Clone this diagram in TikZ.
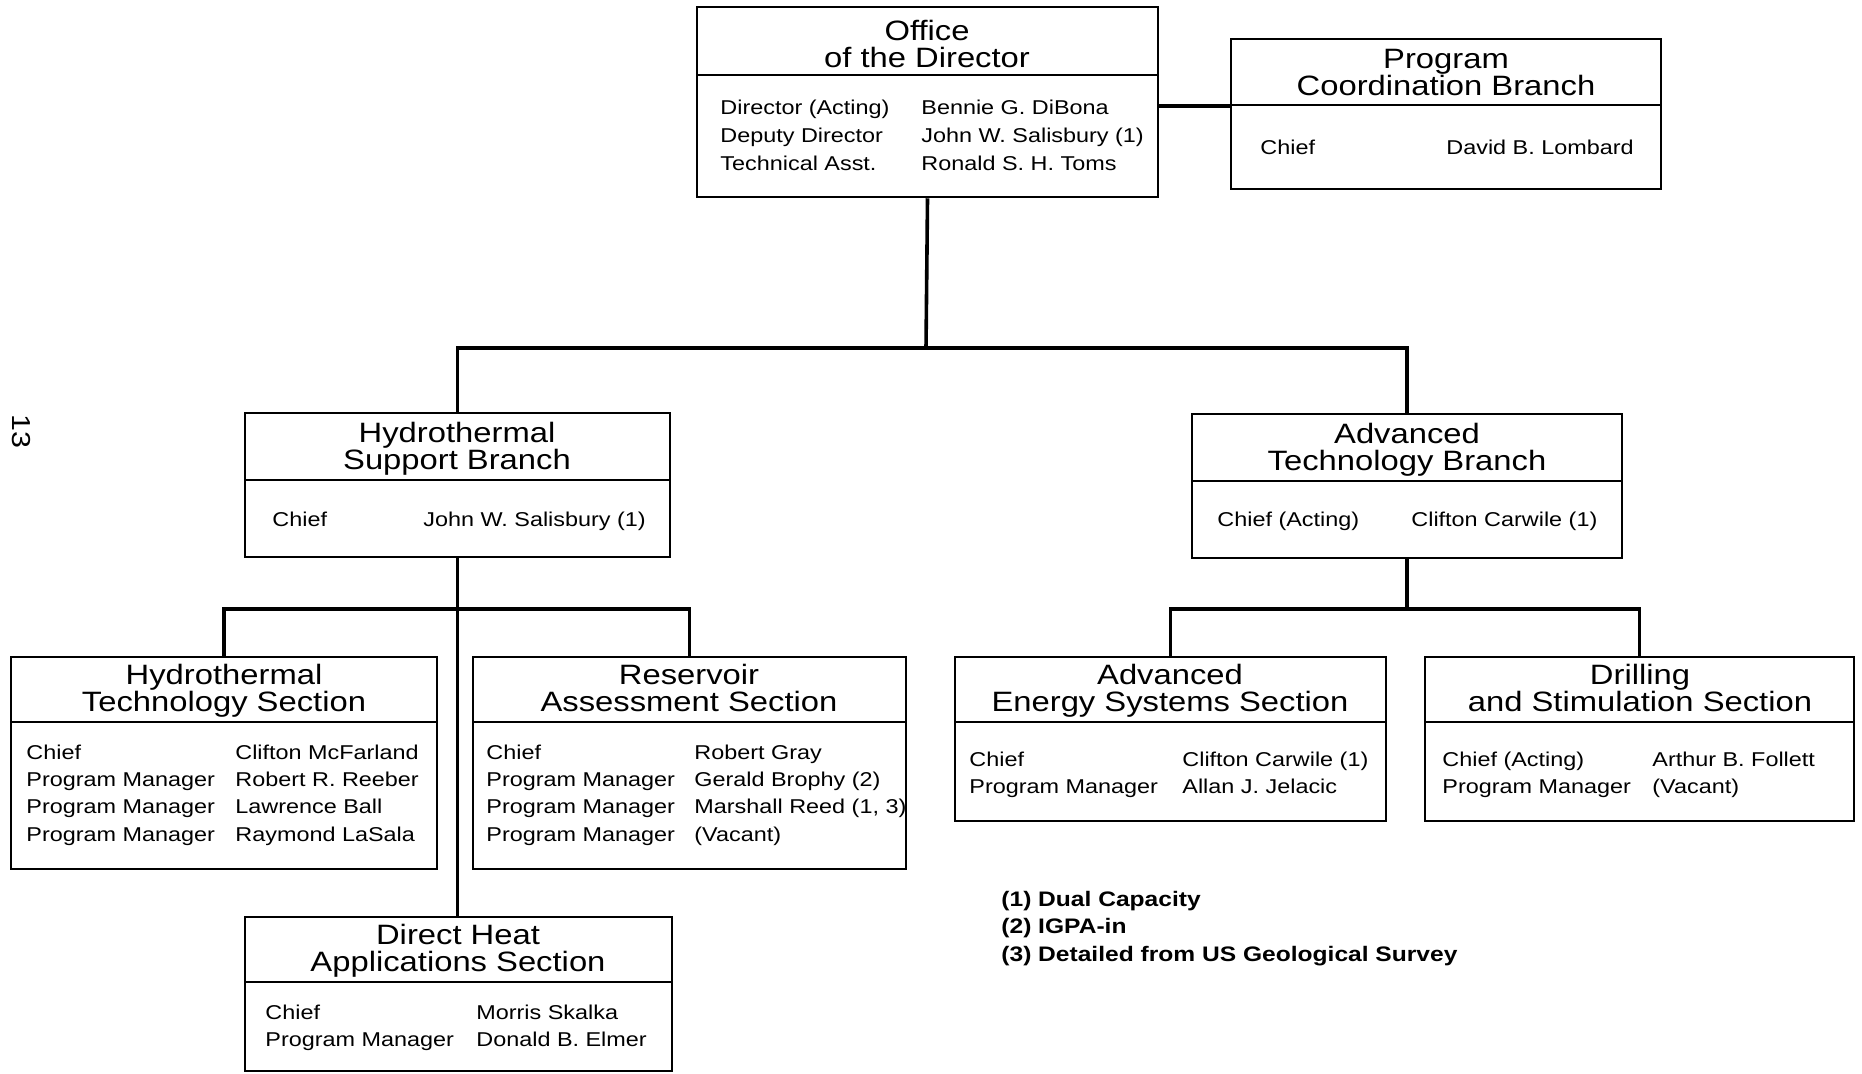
\documentclass[tikz,border=0pt]{standalone}
\usepackage{fontspec}
\setmainfont{Liberation Sans}
\newfontfamily\chartfont[FakeStretch=1.17]{Liberation Sans}
\newcommand\tstrut{\rule[-3.1pt]{0pt}{13.45pt}}
\usetikzlibrary{fit}
\begin{document}
\begin{tikzpicture}[x=0.5pt,y=-0.5pt,
  box/.style={draw, line width=1.25pt, inner sep=0pt},
  divider/.style={line width=1.1pt},
  link/.style={line width=1.8pt},
  ttl/.style={font=\chartfont\fontsize{14}{13.5}\selectfont, align=center, inner sep=0pt},
  txt/.style={font=\chartfont\fontsize{10}{12}\selectfont, anchor=base west, inner sep=0pt},
  note/.style={font=\chartfont\bfseries\fontsize{10.5}{12}\selectfont, anchor=base west, inner sep=0pt},
  pagenum/.style={font=\chartfont\fontsize{13}{13}\selectfont, rotate=-90, inner sep=0pt}]
\useasboundingbox (0,0) rectangle (1862,1073);

% ---------- boxes ----------
\node[box, fit={(697,7) (1158,197)}] (office) {};
\draw[divider] (697,75) -- (1158,75);
\node[box, fit={(1231,39) (1661,189)}] (pcb) {};
\draw[divider] (1231,105) -- (1661,105);
\node[box, fit={(245,413) (670,557)}] (hsb) {};
\draw[divider] (245,480) -- (670,480);
\node[box, fit={(1192,414) (1622,558)}] (atb) {};
\draw[divider] (1192,481) -- (1622,481);
\node[box, fit={(11,657) (437,869)}] (hts) {};
\draw[divider] (11,722) -- (437,722);
\node[box, fit={(473,657) (906,869)}] (ras) {};
\draw[divider] (473,722) -- (906,722);
\node[box, fit={(245,917) (672,1071)}] (dhas) {};
\draw[divider] (245,982) -- (672,982);
\node[box, fit={(955,657) (1386,821)}] (aess) {};
\draw[divider] (955,722) -- (1386,722);
\node[box, fit={(1425,657) (1854,821)}] (dss) {};
\draw[divider] (1425,722) -- (1854,722);

% ---------- connectors ----------
\coordinate (j1) at (926,348);
\coordinate (j2) at (457,609);
\coordinate (j3) at (1407,609);
\draw[link] (office.east |- 0,106) -- (pcb.west |- 0,106);
\draw[link] (office.south) -- (j1);
\draw[link] (hsb.north) |- (j1) -| (atb.north);
\draw[link] (hsb.south) -- (hsb.south |- dhas.north);
\draw[link] (hts.north) |- (j2) -| (ras.north);
\draw[link] (atb.south) -- (j3);
\draw[link] (aess.north) |- (j3) -| (dss.north);

% ---------- titles ----------
\node[ttl] (office-t) at (927,47) {\tstrut Office\\\tstrut of the Director};
\node[ttl] (pcb-t) at (1446,74.5) {\tstrut Program\\\tstrut Coordination Branch};
\node[ttl] (hsb-t) at (457,448.5) {\tstrut Hydrothermal\\\tstrut Support Branch};
\node[ttl] (atb-t) at (1407,449.5) {\tstrut Advanced\\\tstrut Technology Branch};
\node[ttl] (hts-t) at (224,691) {\tstrut Hydrothermal\\\tstrut Technology Section};
\node[ttl] (ras-t) at (689,691) {\tstrut Reservoir\\\tstrut Assessment Section};
\node[ttl] (dhas-t) at (458,951) {\tstrut Direct Heat\\\tstrut Applications Section};
\node[ttl] (aess-t) at (1170,691) {\tstrut Advanced\\\tstrut Energy Systems Section};
\node[ttl] (dss-t) at (1640,691) {\tstrut Drilling\\\tstrut and Stimulation Section};

% ---------- office ----------
\node[txt] (o1a) at (720,114) {Director (Acting)};
\node[txt] (o1b) at (921,114) {Bennie G. DiBona};
\node[txt] (o2a) at (720,142) {Deputy Director};
\node[txt] (o2b) at (921,142) {John W. Salisbury (1)};
\node[txt] (o3a) at (720,170) {Technical Asst.};
\node[txt] (o3b) at (921,170) {Ronald S. H. Toms};

% ---------- program coordination ----------
\node[txt] (p1a) at (1260,154) {Chief};
\node[txt] (p1b) at (1446,154) {David B. Lombard};

% ---------- hydrothermal support ----------
\node[txt] (h1a) at (272,526) {Chief};
\node[txt] (h1b) at (423,526) {John W. Salisbury (1)};

% ---------- advanced technology ----------
\node[txt] (a1a) at (1217,526) {Chief (Acting)};
\node[txt] (a1b) at (1411,526) {Clifton Carwile (1)};

% ---------- hydrothermal technology ----------
\node[txt] (t1a) at (26,759) {Chief};
\node[txt] (t1b) at (235,759) {Clifton McFarland};
\node[txt] (t2a) at (26,786) {Program Manager};
\node[txt] (t2b) at (235,786) {Robert R. Reeber};
\node[txt] (t3a) at (26,813) {Program Manager};
\node[txt] (t3b) at (235,813) {Lawrence Ball};
\node[txt] (t4a) at (26,841) {Program Manager};
\node[txt] (t4b) at (235,841) {Raymond LaSala};

% ---------- reservoir assessment ----------
\node[txt] (r1a) at (486,759) {Chief};
\node[txt] (r1b) at (694,759) {Robert Gray};
\node[txt] (r2a) at (486,786) {Program Manager};
\node[txt] (r2b) at (694,786) {Gerald Brophy (2)};
\node[txt] (r3a) at (486,813) {Program Manager};
\node[txt] (r3b) at (694,813) {Marshall Reed (1, 3)};
\node[txt] (r4a) at (486,841) {Program Manager};
\node[txt] (r4b) at (694,841) {(Vacant)};

% ---------- direct heat ----------
\node[txt] (d1a) at (265,1019) {Chief};
\node[txt] (d1b) at (476,1019) {Morris Skalka};
\node[txt] (d2a) at (265,1046) {Program Manager};
\node[txt] (d2b) at (476,1046) {Donald B. Elmer};

% ---------- advanced energy systems ----------
\node[txt] (e1a) at (969,766) {Chief};
\node[txt] (e1b) at (1182,766) {Clifton Carwile (1)};
\node[txt] (e2a) at (969,793) {Program Manager};
\node[txt] (e2b) at (1182,793) {Allan J. Jelacic};

% ---------- drilling and stimulation ----------
\node[txt] (s1a) at (1442,766) {Chief (Acting)};
\node[txt] (s1b) at (1652,766) {Arthur B. Follett};
\node[txt] (s2a) at (1442,793) {Program Manager};
\node[txt] (s2b) at (1652,793) {(Vacant)};

% ---------- legend ----------
\node[note] (n1) at (1001,906) {(1) Dual Capacity};
\node[note] (n2) at (1001,933) {(2) IGPA-in};
\node[note] (n3) at (1001,961) {(3) Detailed from US Geological Survey};

% ---------- page number ----------
\node[pagenum] (page) at (21,431) {13};
\end{tikzpicture}
\end{document}
